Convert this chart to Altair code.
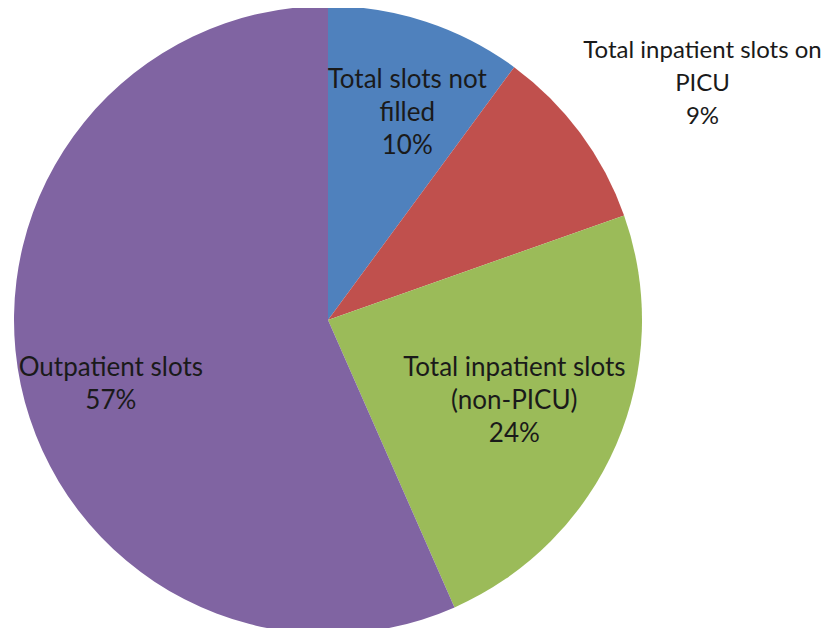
import altair as alt
import pandas as pd

categories = ["Total slots not filled", "Total inpatient slots on PICU",
              "Total inpatient slots (non-PICU)", "Outpatient slots"]
values = [10.1, 9.5, 23.8, 56.6]
pct_labels = ["10%", "9%", "24%", "57%"]
label_text = ["Total slots not\nfilled\n10%",
              "Total inpatient slots on\nPICU\n9%",
              "Total inpatient slots\n(non-PICU)\n24%",
              "Outpatient slots\n57%"]
colors = ["#4F81BD", "#C0504D", "#9BBB59", "#8064A2"]

df = pd.DataFrame({
    "category": categories,
    "value": values,
    "pct": pct_labels,
    "label": label_text,
    "order": list(range(len(categories))),
})

CX, CY, R = 320, 312, 314
LH = 33
theta_scale = alt.Scale(domain=[0, 100], range=[0, 6.283185307])

pie = alt.Chart(df).mark_arc(outerRadius=R, stroke=None).encode(
    theta=alt.Theta("value:Q", stack=True, scale=theta_scale),
    order=alt.Order("order:Q"),
    color=alt.Color("category:N", scale=alt.Scale(domain=categories, range=colors), legend=None),
    x=alt.value(CX), y=alt.value(CY),
)

text_base = alt.Chart(df).transform_window(
    cum="sum(value)", sort=[alt.SortField("order")], frame=[None, 0]
).transform_calculate(
    mid="datum.cum - datum.value / 2"
)

label_style = dict(font="Lato", color="#1a1a1a", lineBreak="\n",
                   lineHeight=LH, align="center", baseline="middle")
# (radius, dx, dy, number of lines, font size)
placements = [(222, 10, 4, 3, 26), (445, 17, 29, 3, 24), (203, 0, 0, 3, 26), (226, 4, 18, 2, 26)]

layers = [pie]
for cat, (rad, ddx, ddy, n, fs) in zip(categories, placements):
    layers.append(
        text_base.mark_text(radius=rad, dx=ddx, dy=ddy - (n - 1) * LH / 2,
                            fontSize=fs, **label_style).encode(
            theta=alt.Theta("mid:Q", stack=None, scale=theta_scale),
            text="label:N", x=alt.value(CX), y=alt.value(CY)
        ).transform_filter(alt.datum.category == cat)
    )

chart = alt.layer(*layers).properties(
    width=819, height=620, padding=0, autosize="none"
).configure_view(stroke=None)

chart.save("out.html", embed_options={"renderer": "svg", "actions": False})
